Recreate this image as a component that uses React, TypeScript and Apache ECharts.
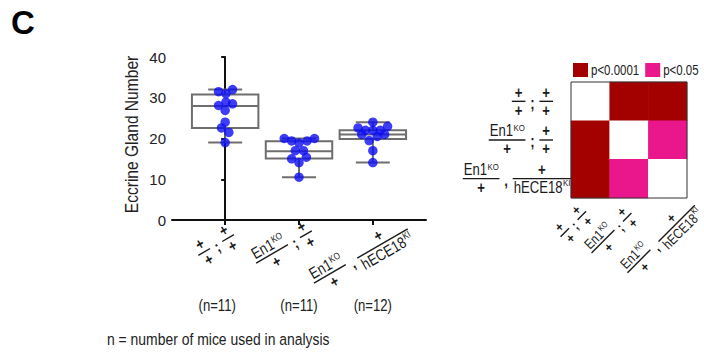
import React, { useEffect, useRef } from 'react';
import * as echarts from 'echarts';

// ---------------- data ----------------
const countLabels = ['(n=11)', '(n=11)', '(n=12)'];
// box stats per group: [min, q1, median, q3, max]
const boxStats = [
  [19.0, 22.6, 28.0, 30.8, 32.0],
  [10.5, 15.1, 16.9, 19.3, 20.0],
  [14.1, 19.9, 21.0, 22.0, 24.0],
];
const wtValues = [31.5, 31.0, 32.0, 28.1, 28.9, 28.5, 26.9, 24.0, 22.6, 21.5, 19.0];
const wtJitter = [-0.09, 0.01, 0.1, -0.09, 0.01, 0.1, 0, 0, -0.05, 0.05, 0];
const koValues = [20.0, 19.4, 18.9, 19.4, 20.0, 17.0, 17.0, 15.0, 15.4, 14.1, 10.5];
const koJitter = [-0.2, -0.1, 0, 0.11, 0.21, -0.05, 0.06, -0.1, 0.1, 0, 0];
const kiValues = [24.0, 22.6, 22.0, 22.0, 22.0, 23.0, 21.0, 20.5, 21.0, 19.5, 17.0, 14.1];
const kiJitter = [0, -0.2, -0.1, 0, 0.1, 0.2, -0.15, 0.06, 0.16, -0.05, 0, 0];
const groupValues = [wtValues, koValues, kiValues];
const groupJitter = [wtJitter, koJitter, kiJitter];
const yAxisName = 'Eccrine Gland Number';
const noteText = 'n = number of mice used in analysis';
// significance matrix: 0 = n.s./self, 1 = p<0.0001, 2 = p<0.05
const pMatrix = [
  [0, 1, 1],
  [1, 0, 2],
  [1, 2, 0],
];
const pLabels = ['p<0.0001', 'p<0.05'];

type Part = { t: string; sup?: string };
const P = (t: string, sup?: string): Part => ({ t, sup });
// genotype labels: [numerator1, denominator1, separator, numerator2, denominator2]
const genotypes: [Part, Part, string, Part, Part][] = [
  [P('+'), P('+'), ';', P('+'), P('+')],
  [P('En1', 'KO'), P('+'), ';', P('+'), P('+')],
  [P('En1', 'KO'), P('+'), ',', P('+'), P('hECE18', 'KI')],
];

// ---------------- layout / style ----------------
const FONT = '"Liberation Sans", Arial, Helvetica, sans-serif';
const NARROW = 0.82; // horizontal squeeze to imitate a narrow sans face
const INK = '#1a1a1a';
const BOX_GRAY = '#6e6e6e';
const DOT_BLUE = '#0d0df2';
const DARK_RED = '#a30000';
const PINK = '#e9168c';
const pColors = [DARK_RED, PINK];

const boxLabelDx = [-9, -15, -12];
const boxLabelDy = [25, 27, 36];
const colLabelDx = [-17, -17.5, -6.5];
const colLabelDy = [26, 35, 41];
const rowLabelRight = [553, 553, 571];
const countDx = [-8, 0, 0];

let measureCtx: CanvasRenderingContext2D | null = null;
function tw(text: string, size: number, bold = false) {
  if (!measureCtx) measureCtx = document.createElement('canvas').getContext('2d');
  measureCtx!.font = `${bold ? 'bold ' : ''}${size}px ${FONT}`;
  return measureCtx!.measureText(text).width * NARROW;
}
function ntext(text: string, x: number, y: number, fs: number, align: string, va: string, extra: any = {}) {
  return {
    type: 'text', x, y, scaleX: NARROW,
    style: { text, fontSize: fs, fontFamily: FONT, fill: INK, align, verticalAlign: va, ...extra },
  };
}
const SUP = 0.6;
const isPlus = (p: Part) => p.t === '+';
function partWidth(p: Part, fs: number) {
  return tw(p.t, fs, isPlus(p)) + (p.sup ? tw(p.sup, fs * SUP) : 0);
}
function partEls(p: Part, cx: number, pos: 'top' | 'bot', fs: number) {
  const w = partWidth(p, fs);
  const left = cx - w / 2;
  const extra = isPlus(p) ? { fontWeight: 'bold' } : {};
  const els: any[] = [ntext(p.t, left, pos === 'top' ? -1 : 1, fs, 'left', pos === 'top' ? 'bottom' : 'top', extra)];
  if (p.sup) {
    els.push(ntext(p.sup, left + tw(p.t, fs) + 0.5, pos === 'top' ? -1 - fs * 1.0 : -0.5, fs * SUP, 'left', 'top'));
  }
  return els;
}
function frac(top: Part, bot: Part, xLeft: number, fs: number) {
  const w = Math.max(partWidth(top, fs) + 2, partWidth(bot, fs) + 2, fs * 0.85);
  const els: any[] = [
    { type: 'line', shape: { x1: xLeft, y1: 0, x2: xLeft + w, y2: 0 }, style: { stroke: INK, lineWidth: 1.4 } },
    ...partEls(top, xLeft + w / 2, 'top', fs),
    ...partEls(bot, xLeft + w / 2, 'bot', fs),
  ];
  return { els, w };
}
function buildGeno(g: [Part, Part, string, Part, Part], fs: number) {
  const gap = fs * 0.3;
  let x = 0;
  const f1 = frac(g[0], g[1], x, fs);
  x += f1.w + gap;
  const sepEl = ntext(g[2], x, 2, fs, 'left', 'middle', { fontWeight: 'bold' });
  x += tw(g[2], fs, true) + gap;
  const f2 = frac(g[3], g[4], x, fs);
  const total = x + f2.w;
  return { els: [...f1.els, sepEl, ...f2.els], total };
}
function genoGroup(g: any, fs: number, x: number, y: number, rotDeg: number, mode: 'center' | 'right') {
  const { els, total } = buildGeno(g, fs);
  return {
    type: 'group', x, y, rotation: (rotDeg * Math.PI) / 180,
    children: [{ type: 'group', x: mode === 'center' ? -total / 2 : -total, y: 0, children: els }],
  };
}

export default function App() {
  const ref = useRef<HTMLDivElement>(null);
  useEffect(() => {
    document.body.style.margin = '0';
    const chart = echarts.init(ref.current!, null, { renderer: 'svg' });
    const boxData = boxStats.map((s, i) => [i, ...s]);
    const heatData: number[][] = [];
    pMatrix.forEach((row, r) => row.forEach((v, c) => heatData.push([c, r, v])));

    const line = (a: number[], b: number[]) => ({
      type: 'line',
      shape: { x1: a[0], y1: a[1], x2: b[0], y2: b[1] },
      style: { stroke: BOX_GRAY, lineWidth: 2 },
    });

    const option: any = {
      animation: false,
      backgroundColor: '#ffffff',
      grid: [
        { left: 172, top: 57, width: 254, height: 163 },
        {
          left: 571, top: 82, width: 116, height: 116, show: true, z: 10,
          borderColor: '#333', borderWidth: 1, backgroundColor: 'transparent',
        },
      ],
      xAxis: [
        {
          type: 'value', gridIndex: 0, min: -0.72, max: 2.72,
          axisLine: { show: true, onZero: false, lineStyle: { color: '#111', width: 2 } },
          axisTick: { show: true, customValues: [0, 1, 2], length: 5, lineStyle: { color: '#111', width: 2 } },
          axisLabel: { show: false },
          splitLine: { show: false },
        },
        { type: 'category', gridIndex: 1, data: ['0', '1', '2'], show: false },
      ],
      yAxis: [
        {
          type: 'value', gridIndex: 0, min: 0, max: 40, interval: 10,
          axisLine: { show: true, lineStyle: { color: '#111', width: 2 } },
          axisTick: { show: true, length: 4, lineStyle: { color: '#111', width: 2 } },
          axisLabel: { fontSize: 15, color: '#222', fontFamily: FONT, margin: 6 },
          splitLine: { show: false },
        },
        { type: 'category', gridIndex: 1, data: ['0', '1', '2'], inverse: true, show: false },
      ],
      visualMap: {
        type: 'piecewise', seriesIndex: 4, dimension: 2, show: false,
        pieces: [
          { value: 1, label: pLabels[0], color: DARK_RED },
          { value: 2, label: pLabels[1], color: PINK },
        ],
        outOfRange: { color: ['#ffffff'] },
      },
      series: [
        {
          type: 'custom', xAxisIndex: 0, yAxisIndex: 0, data: boxData, z: 2,
          encode: { x: 0, y: [1, 2, 3, 4, 5] },
          renderItem: (params: any, api: any) => {
            const x = api.value(0);
            const mn = api.value(1), q1 = api.value(2), md = api.value(3), q3 = api.value(4), mx = api.value(5);
            const c = (xx: number, yy: number) => api.coord([xx, yy]);
            const tl = c(x - 0.45, q3);
            const br = c(x + 0.45, q1);
            return {
              type: 'group',
              children: [
                line(c(x, q3), c(x, mx)),
                line(c(x, q1), c(x, mn)),
                line(c(x - 0.23, mx), c(x + 0.23, mx)),
                line(c(x - 0.23, mn), c(x + 0.23, mn)),
                {
                  type: 'rect',
                  shape: { x: tl[0], y: tl[1], width: br[0] - tl[0], height: br[1] - tl[1] },
                  style: { fill: '#ffffff', stroke: BOX_GRAY, lineWidth: 2 },
                },
                line(c(x - 0.45, md), c(x + 0.45, md)),
              ],
            };
          },
        },
        ...groupValues.map((vals, g) => ({
          type: 'scatter', xAxisIndex: 0, yAxisIndex: 0, z: 3,
          symbol: 'circle', symbolSize: 9.5,
          itemStyle: { color: DOT_BLUE },
          data: vals.map((v, i) => [g + groupJitter[g][i], v]),
        })),
        {
          type: 'heatmap', xAxisIndex: 1, yAxisIndex: 1, data: heatData,
          itemStyle: { borderWidth: 0 },
          emphasis: { disabled: true },
        },
      ],
    };
    chart.setOption(option);

    const tickPx = [0, 1, 2].map((i) => chart.convertToPixel({ xAxisIndex: 0 }, i) as number);
    const axisY = chart.convertToPixel({ yAxisIndex: 0 }, 0) as number;
    const axisMidY = ((chart.convertToPixel({ yAxisIndex: 0 }, 0) as number) + (chart.convertToPixel({ yAxisIndex: 0 }, 40) as number)) / 2;
    const rowPx = [0, 1, 2].map((r) => chart.convertToPixel({ yAxisIndex: 1 }, r) as number);
    const colPx = [0, 1, 2].map((c) => chart.convertToPixel({ xAxisIndex: 1 }, c) as number);
    const gridBottom = 198;

    // legend (key for the heatmap colours)
    const legendEls: any[] = [];
    let lx = 573;
    pLabels.forEach((t, i) => {
      legendEls.push({ type: 'rect', shape: { x: lx, y: 63, width: 15, height: 14 }, style: { fill: pColors[i] } });
      legendEls.push(ntext(t, lx + 18, 70, 14, 'left', 'middle', { fill: '#222' }));
      lx += 18 + tw(t, 14) + 6;
    });

    const nameEl = ntext(yAxisName, 131, axisMidY - 4, 19, 'center', 'middle', { fill: '#222' });
    (nameEl as any).rotation = Math.PI / 2;

    const elements: any[] = [
      {
        type: 'text', x: 11, y: 6,
        style: { text: 'C', fontSize: 33, fontWeight: 'bold', fontFamily: FONT, fill: '#000', align: 'left', verticalAlign: 'top' },
      },
      nameEl,
      ntext(noteText, 107, 339, 17, 'left', 'middle', { fill: '#222' }),
      ...countLabels.map((t, i) => ntext(t, tickPx[i] + countDx[i], 306, 16, 'center', 'middle', { fill: '#222' })),
      ...legendEls,
      ...genotypes.map((g, i) => genoGroup(g, 16, tickPx[i] + boxLabelDx[i], axisY + boxLabelDy[i], 30, 'center')),
      ...genotypes.map((g, i) => genoGroup(g, 16, rowLabelRight[i], rowPx[i], 0, 'right')),
      ...genotypes.map((g, i) => genoGroup(g, 14, colPx[i] + colLabelDx[i], gridBottom + colLabelDy[i], 45, 'center')),
    ];
    chart.setOption({ graphic: { elements } });

    return () => chart.dispose();
  }, []);
  return <div ref={ref} style={{ position: 'fixed', left: 0, top: 0, width: 704, height: 355 }} />;
}
